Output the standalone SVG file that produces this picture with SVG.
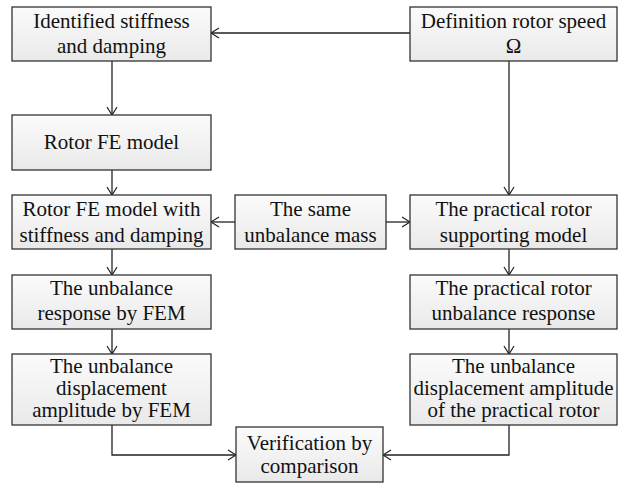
<svg xmlns="http://www.w3.org/2000/svg" width="625" height="485" viewBox="0 0 625 485">
<defs>
<linearGradient id="g" x1="0" y1="0" x2="0" y2="1">
<stop offset="0" stop-color="#fbfbfb"/>
<stop offset="1" stop-color="#e9e9e9"/>
</linearGradient>
<marker id="ah" markerWidth="12" markerHeight="12" refX="10" refY="6" orient="auto" markerUnits="userSpaceOnUse">
<path d="M2,1 L10,6 L2,11" fill="none" stroke="#222" stroke-width="1.2"/>
</marker>
</defs>
<style>
rect{fill:url(#g);stroke:#333;stroke-width:1.3}
text{font-family:"Liberation Serif","DejaVu Serif",serif;font-size:21px;fill:#111;text-anchor:middle}
.c{fill:none;stroke:#222;stroke-width:1.3;marker-end:url(#ah)}
</style>
<g id="connectors">
<path class="c" d="M410,33 H211"/>
<path class="c" d="M112,61 V115"/>
<path class="c" d="M112,170 V195"/>
<path class="c" d="M509,61 V195"/>
<path class="c" d="M235,222 H211"/>
<path class="c" d="M386,222 H410"/>
<path class="c" d="M112,249 V275"/>
<path class="c" d="M509,249 V275"/>
<path class="c" d="M112,329 V354"/>
<path class="c" d="M509,329 V354"/>
<path class="c" d="M112,425 V455 H236"/>
<path class="c" d="M509,425 V455 H383"/>
</g>
<g id="n1"><rect x="12" y="7" width="199" height="54"/><text x="111.5" y="28">Identified stiffness</text><text x="111.5" y="53">and damping</text></g>
<g id="n2"><rect x="410" y="7" width="207" height="54"/><text x="513.5" y="28">Definition rotor speed</text><text x="513.5" y="53">Ω</text></g>
<g id="n3"><rect x="12" y="115" width="199" height="55"/><text x="111.5" y="149">Rotor FE model</text></g>
<g id="n4"><rect x="12" y="195" width="199" height="54"/><text x="111.5" y="216">Rotor FE model with</text><text x="111.5" y="242">stiffness and damping</text></g>
<g id="n5"><rect x="235" y="195" width="151" height="54"/><text x="310.5" y="216">The same</text><text x="310.5" y="242">unbalance mass</text></g>
<g id="n6"><rect x="410" y="195" width="207" height="54"/><text x="513.5" y="216">The practical rotor</text><text x="513.5" y="242">supporting model</text></g>
<g id="n7"><rect x="12" y="275" width="199" height="54"/><text x="111.5" y="295">The unbalance</text><text x="111.5" y="320">response by FEM</text></g>
<g id="n8"><rect x="410" y="275" width="207" height="54"/><text x="513.5" y="295">The practical rotor</text><text x="513.5" y="320">unbalance response</text></g>
<g id="n9"><rect x="12" y="354" width="199" height="71"/><text x="111.5" y="373">The unbalance</text><text x="111.5" y="395">displacement</text><text x="111.5" y="417">amplitude by FEM</text></g>
<g id="n10"><rect x="410" y="354" width="207" height="71"/><text x="513.5" y="373">The unbalance</text><text x="513.5" y="395">displacement amplitude</text><text x="513.5" y="417">of the practical rotor</text></g>
<g id="n11"><rect x="236" y="427" width="147" height="55"/><text x="309.5" y="450">Verification by</text><text x="309.5" y="473">comparison</text></g>
</svg>
